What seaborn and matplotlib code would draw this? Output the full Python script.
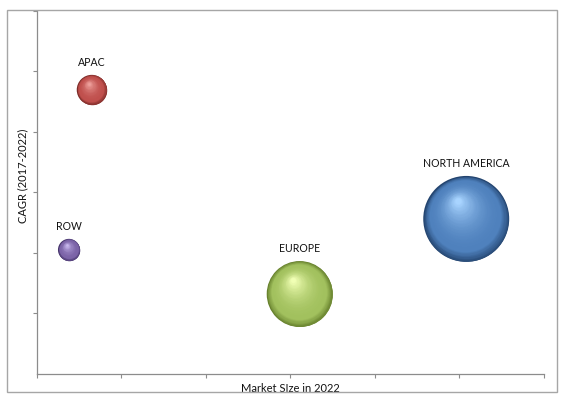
import numpy as np
import pandas as pd
import matplotlib
matplotlib.use("Agg")
import matplotlib.pyplot as plt
import matplotlib.transforms as mtransforms
from matplotlib.patches import Rectangle
from matplotlib.colors import to_rgb
import seaborn as sns

# ---- data ----
regions = ["APAC", "ROW", "EUROPE", "NORTH AMERICA"]
market_size = [0.65, 0.38, 3.11, 5.08]   # x (axis units, 0-6)
cagr = [4.69, 2.05, 1.32, 2.56]          # y (axis units, 0-6)
bubble = [12.2, 6.5, 58.9, 100.0]        # relative bubble area

# ---- style ----
sns.set_theme(style="white")
plt.rcParams["font.family"] = ["Lato", "DejaVu Sans"]

colors = {
    "APAC": ("#7a2a27", "#c0504d", "#eea09c"),
    "ROW": ("#45346a", "#7c64a8", "#c8b8ee"),
    "EUROPE": ("#66802c", "#a2c15e", "#f0ffb4"),
    "NORTH AMERICA": ("#23446f", "#4f81bd", "#a8d4ff"),
}

df = pd.DataFrame({"region": regions, "x": market_size, "y": cagr, "b": bubble})

fig = plt.figure(figsize=(5.65, 4.0), dpi=100)
ax = fig.add_axes([36.8 / 565, 1 - 374 / 400, (544 - 36.8) / 565, (374 - 10.5) / 400])

K = 38.3  # points^2 per bubble unit
sns.scatterplot(data=df, x="x", y="y", size="b", sizes=(min(bubble) * K, max(bubble) * K),
                size_norm=(min(bubble), max(bubble)), hue="region",
                palette={r: colors[r][0] for r in regions}, legend=False,
                linewidth=0, ax=ax, zorder=2)


def blend(c1, c2, f):
    a, b = np.array(to_rgb(c1)), np.array(to_rgb(c2))
    return tuple(a + (b - a) * f)


N = 50
for r, xv, yv, bv in zip(regions, market_size, cagr, bubble):
    dark, base, hi = colors[r]
    R = np.sqrt(bv * K) / 2.0  # radius in points
    hx, hy = -0.2 * R, 0.42 * R
    for k in range(1, N + 1):
        t = k / N
        rad = R * (1 - 0.93 * t)
        if t < 0.18:
            col = blend(dark, base, (t / 0.18) ** 0.8)
        else:
            col = blend(base, hi, ((t - 0.18) / 0.82) ** 2.0)
        tr = mtransforms.offset_copy(ax.transData, fig=fig, x=hx * t, y=hy * t, units="points")
        ax.scatter([xv], [yv], s=(2 * rad) ** 2, color=[col], linewidths=0,
                   transform=tr, zorder=3)
    ax.annotate(r, (xv, yv), xytext=(0, R + 9), textcoords="offset points",
                ha="center", va="center", fontsize=7.6, color="#111111", zorder=4)

ax.set_xlim(0, 6)
ax.set_ylim(0, 6)
ax.set_xticks(np.arange(0, 7))
ax.set_yticks(np.arange(1, 7))
ax.set_xticklabels([])
ax.set_yticklabels([])
for s in ["top", "right"]:
    ax.spines[s].set_visible(False)
for s in ["left", "bottom"]:
    ax.spines[s].set_color("#8c8c8c")
    ax.spines[s].set_linewidth(0.9)
ax.tick_params(axis="both", which="both", direction="out", length=3, width=0.8,
               color="#8c8c8c", left=True, bottom=True)
ax.set_facecolor("none")

ax.set_xlabel("Market SIze in 2022", fontsize=8, color="#111111", labelpad=0)
ax.xaxis.set_label_coords(0.5, -0.024)
ax.set_ylabel("CAGR (2017-2022)", fontsize=8, color="#111111")
ax.yaxis.set_label_coords(-0.017, 0.545)

fig.patches.append(Rectangle((7 / 565, 1 - 392 / 400), (557 - 7) / 565, (392 - 10) / 400,
                             transform=fig.transFigure, fill=False, edgecolor="#a6a6a6",
                             linewidth=1.0, zorder=0))

fig.savefig("out.png", dpi=100)
